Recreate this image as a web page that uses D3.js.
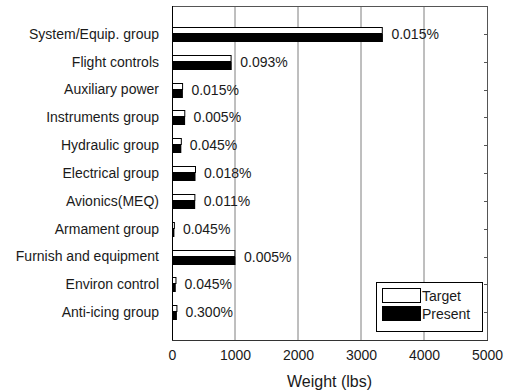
<!DOCTYPE html>
<html>
<head>
<meta charset="utf-8">
<script src="https://cdn.jsdelivr.net/npm/d3@7"></script>
<style>
  html, body { margin: 0; padding: 0; background: #fff; }
  svg { display: block; }
  text { font-family: "Liberation Sans", Arial, sans-serif; fill: #1a1a1a; }
</style>
</head>
<body>
<svg id="chart" width="508" height="392"></svg>
<script>
// Component weight breakdown: target vs present weight (lbs)
const categories = [
  "System/Equip. group", "Flight controls", "Auxiliary power", "Instruments group",
  "Hydraulic group", "Electrical group", "Avionics(MEQ)", "Armament group",
  "Furnish and equipment", "Environ control", "Anti-icing group"
];
const targetWeight  = [3330, 930, 160, 195, 140, 365, 355, 30, 990, 55, 70];
const presentWeight = [3340, 940, 165, 200, 140, 365, 360, 30, 1000, 52, 70];
const pctLabels = ["0.015%", "0.093%", "0.015%", "0.005%", "0.045%", "0.018%",
                   "0.011%", "0.045%", "0.005%", "0.045%", "0.300%"];
const xTicks = [0, 1000, 2000, 3000, 4000, 5000];
const seriesNames = ["Target", "Present"];

const svg = d3.select("#chart");
const m = { left: 172, right: 487, top: 6, bottom: 340 };

const x = d3.scaleLinear().domain([0, 5000]).range([m.left, m.right]);
const y = d3.scalePoint().domain(categories).range([m.top, m.bottom]).padding(1);

// vertical grid lines
svg.append("g").selectAll("line").data(xTicks.slice(1, -1)).join("line")
  .attr("x1", d => x(d)).attr("x2", d => x(d))
  .attr("y1", m.top).attr("y2", m.bottom)
  .attr("stroke", "#7f7f7f").attr("stroke-width", 1);

// plot frame
svg.append("rect")
  .attr("x", m.left + 0.5).attr("y", m.top + 0.5)
  .attr("width", m.right - m.left).attr("height", m.bottom - m.top)
  .attr("fill", "none").attr("stroke", "#555").attr("stroke-width", 1);

// right-side inward ticks at each category
svg.append("g").selectAll("line").data(categories).join("line")
  .attr("x1", m.right - 3).attr("x2", m.right)
  .attr("y1", d => Math.round(y(d)) + 0.5).attr("y2", d => Math.round(y(d)) + 0.5)
  .attr("stroke", "#555");

// bottom axis labels
const xAxis = d3.axisBottom(x).tickValues(xTicks).tickSize(0).tickPadding(10)
  .tickFormat(d3.format("d"));
const gx = svg.append("g").attr("transform", `translate(0,${m.bottom})`).call(xAxis);
gx.select(".domain").remove();
gx.selectAll("text").attr("font-size", 14).attr("font-family", "Liberation Sans, Arial, sans-serif")
  .attr("fill", "#1a1a1a");

svg.append("text")
  .attr("x", (m.left + m.right) / 2).attr("y", 387)
  .attr("text-anchor", "middle").attr("font-size", 16)
  .text("Weight (lbs)");

// category labels
const yAxis = d3.axisLeft(y).tickSize(0).tickPadding(13);
const gy = svg.append("g").attr("transform", `translate(${m.left},0)`).call(yAxis);
gy.select(".domain").remove();
gy.selectAll("text").attr("font-size", 14).attr("font-family", "Liberation Sans, Arial, sans-serif")
  .attr("fill", "#1a1a1a");

// bars
const bars = svg.append("g");
bars.selectAll("rect.target").data(categories).join("rect")
  .attr("class", "target")
  .attr("x", x(0) + 0.5)
  .attr("y", d => Math.round(y(d)) - 6.5)
  .attr("width", (d, i) => x(targetWeight[i]) - x(0))
  .attr("height", 6)
  .attr("fill", "#fff").attr("stroke", "#000").attr("stroke-width", 1);

bars.selectAll("rect.present").data(categories).join("rect")
  .attr("class", "present")
  .attr("x", x(0))
  .attr("y", d => Math.round(y(d)))
  .attr("width", (d, i) => x(presentWeight[i]) - x(0) + 0.5)
  .attr("height", 8)
  .attr("fill", "#000");

// left axis line
svg.append("line")
  .attr("x1", m.left + 0.5).attr("x2", m.left + 0.5)
  .attr("y1", m.top).attr("y2", m.bottom + 1)
  .attr("stroke", "#000");
svg.append("line")
  .attr("x1", m.left).attr("x2", m.right + 1)
  .attr("y1", m.bottom + 0.5).attr("y2", m.bottom + 0.5)
  .attr("stroke", "#333");

// percentage labels at bar ends
svg.append("g").selectAll("text").data(categories).join("text")
  .attr("x", (d, i) => x(Math.max(targetWeight[i], presentWeight[i])) + 9)
  .attr("y", d => y(d))
  .attr("dy", "0.36em")
  .attr("font-size", 14)
  .text((d, i) => pctLabels[i]);

// legend
const lg = svg.append("g").attr("transform", "translate(376,282)");
lg.append("rect").attr("x", 0.5).attr("y", 0.5).attr("width", 106).attr("height", 49)
  .attr("fill", "#fff").attr("stroke", "#000");
lg.append("rect").attr("x", 6.5).attr("y", 6.5).attr("width", 38).attr("height", 14)
  .attr("fill", "#fff").attr("stroke", "#000");
lg.append("rect").attr("x", 6).attr("y", 24).attr("width", 39).attr("height", 15)
  .attr("fill", "#000");
lg.selectAll("text").data(seriesNames).join("text")
  .attr("x", 46).attr("y", (d, i) => 14 + i * 18).attr("dy", "0.36em")
  .attr("font-size", 14)
  .text(d => d);
</script>
</body>
</html>
